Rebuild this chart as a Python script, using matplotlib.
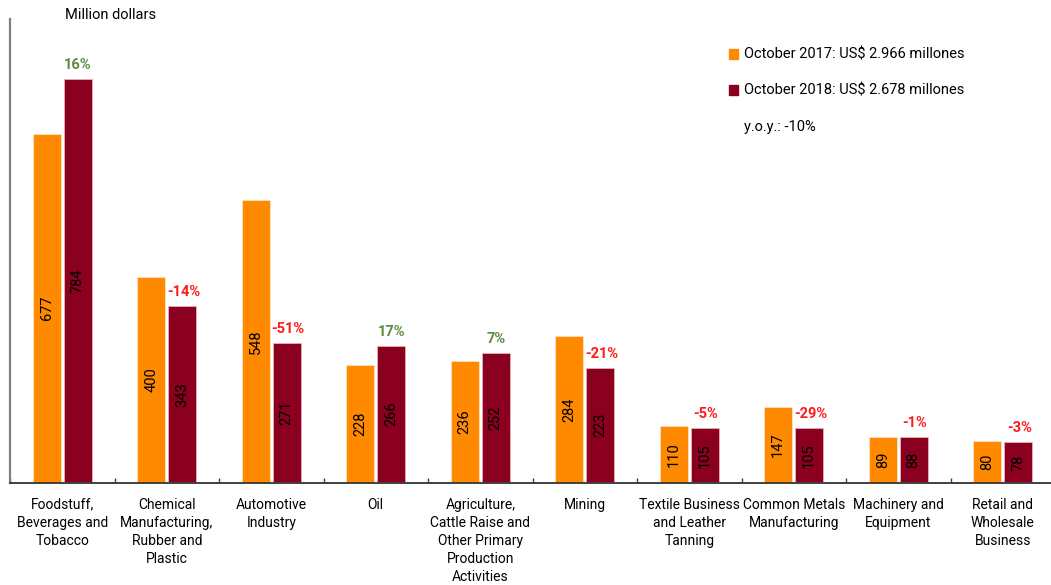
import numpy as np
import matplotlib
matplotlib.use("Agg")
import matplotlib.pyplot as plt
from matplotlib.patches import Patch

plt.rcParams["font.family"] = ["Roboto", "DejaVu Sans"]

# data
categories = [
    "Foodstuff,\nBeverages and\nTobacco",
    "Chemical\nManufacturing,\nRubber and\nPlastic",
    "Automotive\nIndustry",
    "Oil",
    "Agriculture,\nCattle Raise and\nOther Primary\nProduction\nActivities",
    "Mining",
    "Textile Business\nand Leather\nTanning",
    "Common Metals\nManufacturing",
    "Machinery and\nEquipment",
    "Retail and\nWholesale\nBusiness",
]
oct_2017 = [677, 400, 548, 228, 236, 284, 110, 147, 89, 80]
oct_2018 = [784, 343, 271, 266, 252, 223, 105, 105, 88, 78]
yoy_pct = [16, -14, -51, 17, 7, -21, -5, -29, -1, -3]

label_2017 = "October 2017: US$ 2.966 millones"
label_2018 = "October 2018: US$ 2.678 millones"
label_total = "y.o.y.: -10%"

ORANGE = "#FF8A00"
WINE = "#8A001E"
GREEN = "#5E8C3F"
RED = "#FF1A1A"

W, H = 1051, 585
fig = plt.figure(figsize=(W / 100, H / 100), dpi=100)
# axes spans px x 10..1055, y 19..482.5
ax = fig.add_axes([10 / W, (H - 482.5) / H, 1045 / W, (482.5 - 19) / H])

x = np.arange(len(categories))
bw = 0.27
off = 0.148
ax.bar(x - off, oct_2017, bw, color=ORANGE, edgecolor="#FFE0C0", linewidth=0.6)
ax.bar(x + off, oct_2018, bw, color=WINE, edgecolor="#E8B0B8", linewidth=0.6)

for xi, v in zip(x, oct_2017):
    ax.text(xi - off, v / 2, str(v), rotation=90, ha="center", va="center",
            fontsize=10.5, color="black")
for xi, v in zip(x, oct_2018):
    ax.text(xi + off, v / 2, str(v), rotation=90, ha="center", va="center",
            fontsize=10.5, color="black")
for xi, v, p in zip(x, oct_2018, yoy_pct):
    ax.annotate(f"{p}%", (xi + off, v), xytext=(1 if p < 0 else 0, 5),
                textcoords="offset points", ha="center", va="bottom",
                fontsize=10.5, fontweight="bold", color=GREEN if p > 0 else RED)

ax.set_xlim(-0.5, len(categories) - 0.5)
ax.set_ylim(0, 900)
ax.set_yticks([])
ax.set_xticks(x)
ax.set_xticklabels(categories, fontsize=10, linespacing=1.38)
ax.tick_params(axis="x", which="major", length=0, pad=11)
ax.set_xticks(np.arange(len(categories) + 1) - 0.5, minor=True)
ax.tick_params(axis="x", which="minor", direction="in", length=3.5,
               width=1, color="#404040")

for s in ["top", "right"]:
    ax.spines[s].set_visible(False)
ax.spines["left"].set_color("#808080")
ax.spines["left"].set_linewidth(1.6)
ax.spines["bottom"].set_color("#404040")
ax.spines["bottom"].set_linewidth(1.4)

fig.text(65 / W, 1 - 15 / H, "Million dollars", fontsize=10.5, va="center", ha="left")

handles = [Patch(color=ORANGE), Patch(color=WINE), Patch(color="none")]
fig.legend(handles, [label_2017, label_2018, label_total],
           loc="upper left", bbox_to_anchor=(729 / W, 1 - 48 / H),
           frameon=False, fontsize=10.5, handlelength=0.65, handleheight=0.65,
           handletextpad=0.4, labelspacing=1.5, borderpad=0, borderaxespad=0)

fig.savefig("out.png", dpi=100)
